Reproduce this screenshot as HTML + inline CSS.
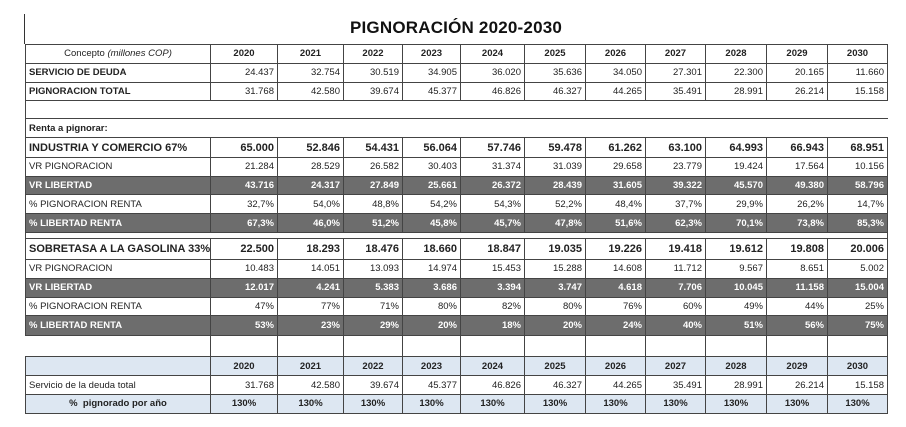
<!DOCTYPE html>
<html><head><meta charset="utf-8"><style>
body{margin:0;width:906px;height:427px;background:#fff;position:relative;overflow:hidden;font-family:"Liberation Sans",sans-serif;}
.title{position:absolute;left:25px;width:862px;top:18px;text-align:center;font-size:17px;font-weight:bold;color:#111;letter-spacing:0.2px}
.vl{position:absolute;left:24px;top:14px;width:1px;height:30px;background:#333}
table{position:absolute;left:25px;top:44px;width:862px;border-collapse:collapse;table-layout:fixed;font-size:9.5px;color:#222}
td{border:1px solid #444;padding:0 3px;height:17.8px;text-align:right;white-space:nowrap;overflow:hidden}
td:first-child{text-align:left}
tr.h td{text-align:center;font-weight:bold}
tr.h td:first-child{text-align:center}
tr.big td{font-weight:bold;font-size:11px;height:18.5px}
tr.g td{background:#6d6d6d;color:#fff;font-weight:bold}
tr.lb2 td{background:#dde7f2;text-align:center;font-weight:bold}
tr.lb2 td:first-child{text-align:center}
</style></head><body>
<div class="vl"></div>
<div class="title">PIGNORACIÓN 2020-2030</div>
<table>
<colgroup><col style="width:185px"><col style="width:67px"><col style="width:66px"><col style="width:59px"><col style="width:58px"><col style="width:64px"><col style="width:61px"><col style="width:60px"><col style="width:60px"><col style="width:61px"><col style="width:61px"><col style="width:60px"></colgroup>
<tr class="h"><td style="font-weight:normal">Concepto <i>(millones COP)</i></td><td>2020</td><td>2021</td><td>2022</td><td>2023</td><td>2024</td><td>2025</td><td>2026</td><td>2027</td><td>2028</td><td>2029</td><td>2030</td></tr>
<tr><td><b>SERVICIO DE DEUDA</b></td><td>24.437</td><td>32.754</td><td>30.519</td><td>34.905</td><td>36.020</td><td>35.636</td><td>34.050</td><td>27.301</td><td>22.300</td><td>20.165</td><td>11.660</td></tr>
<tr><td><b>PIGNORACION TOTAL</b></td><td>31.768</td><td>42.580</td><td>39.674</td><td>45.377</td><td>46.826</td><td>46.327</td><td>44.265</td><td>35.491</td><td>28.991</td><td>26.214</td><td>15.158</td></tr>
<tr><td colspan="12" style="border-right:none;height:17px"></td></tr>
<tr><td colspan="12" style="border-right:none;height:18px"><b>Renta a pignorar:</b></td></tr>
<tr class="big"><td>INDUSTRIA Y COMERCIO 67%</td><td>65.000</td><td>52.846</td><td>54.431</td><td>56.064</td><td>57.746</td><td>59.478</td><td>61.262</td><td>63.100</td><td>64.993</td><td>66.943</td><td>68.951</td></tr>
<tr><td>VR PIGNORACION</td><td>21.284</td><td>28.529</td><td>26.582</td><td>30.403</td><td>31.374</td><td>31.039</td><td>29.658</td><td>23.779</td><td>19.424</td><td>17.564</td><td>10.156</td></tr>
<tr class="g"><td>VR LIBERTAD</td><td>43.716</td><td>24.317</td><td>27.849</td><td>25.661</td><td>26.372</td><td>28.439</td><td>31.605</td><td>39.322</td><td>45.570</td><td>49.380</td><td>58.796</td></tr>
<tr><td>% PIGNORACION RENTA</td><td>32,7%</td><td>54,0%</td><td>48,8%</td><td>54,2%</td><td>54,3%</td><td>52,2%</td><td>48,4%</td><td>37,7%</td><td>29,9%</td><td>26,2%</td><td>14,7%</td></tr>
<tr class="g"><td>% LIBERTAD RENTA</td><td>67,3%</td><td>46,0%</td><td>51,2%</td><td>45,8%</td><td>45,7%</td><td>47,8%</td><td>51,6%</td><td>62,3%</td><td>70,1%</td><td>73,8%</td><td>85,3%</td></tr>
<tr><td colspan="12" style="height:5px;padding:0;border-top:1px solid #444;border-bottom:1px solid #444"></td></tr>
<tr class="big"><td style="height:20px">SOBRETASA A LA GASOLINA 33%</td><td>22.500</td><td>18.293</td><td>18.476</td><td>18.660</td><td>18.847</td><td>19.035</td><td>19.226</td><td>19.418</td><td>19.612</td><td>19.808</td><td>20.006</td></tr>
<tr><td>VR PIGNORACION</td><td>10.483</td><td>14.051</td><td>13.093</td><td>14.974</td><td>15.453</td><td>15.288</td><td>14.608</td><td>11.712</td><td>9.567</td><td>8.651</td><td>5.002</td></tr>
<tr class="g"><td>VR LIBERTAD</td><td>12.017</td><td>4.241</td><td>5.383</td><td>3.686</td><td>3.394</td><td>3.747</td><td>4.618</td><td>7.706</td><td>10.045</td><td>11.158</td><td>15.004</td></tr>
<tr><td>% PIGNORACION RENTA</td><td>47%</td><td>77%</td><td>71%</td><td>80%</td><td>82%</td><td>80%</td><td>76%</td><td>60%</td><td>49%</td><td>44%</td><td>25%</td></tr>
<tr class="g"><td style="height:19px">% LIBERTAD RENTA</td><td>53%</td><td>23%</td><td>29%</td><td>20%</td><td>18%</td><td>20%</td><td>24%</td><td>40%</td><td>51%</td><td>56%</td><td>75%</td></tr>
<tr><td style="height:20px;border-left:none;border-bottom:1px solid #444"></td><td></td><td></td><td></td><td></td><td></td><td></td><td></td><td></td><td></td><td></td><td></td></tr>
<tr class="lb2"><td></td><td>2020</td><td>2021</td><td>2022</td><td>2023</td><td>2024</td><td>2025</td><td>2026</td><td>2027</td><td>2028</td><td>2029</td><td>2030</td></tr>
<tr><td>Servicio de la deuda total</td><td>31.768</td><td>42.580</td><td>39.674</td><td>45.377</td><td>46.826</td><td>46.327</td><td>44.265</td><td>35.491</td><td>28.991</td><td>26.214</td><td>15.158</td></tr>
<tr class="lb2"><td>% &nbsp;pignorado por año</td><td>130%</td><td>130%</td><td>130%</td><td>130%</td><td>130%</td><td>130%</td><td>130%</td><td>130%</td><td>130%</td><td>130%</td><td>130%</td></tr>
</table>
</body></html>
